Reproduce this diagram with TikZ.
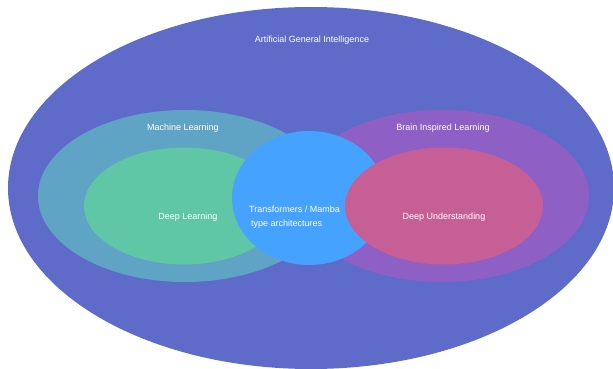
\documentclass[tikz,border=0pt]{standalone}
\usepackage{fontspec}
\setmainfont{Liberation Sans}
\usepackage{xcolor}
\usetikzlibrary{positioning}
\usetikzlibrary{shapes.geometric}
\definecolor{agicol}{RGB}{95,107,200}
\definecolor{mlcol}{RGB}{95,163,197}
\definecolor{dlcol}{RGB}{95,199,165}
\definecolor{tfcol}{RGB}{69,163,255}
\definecolor{bilcol}{RGB}{142,95,197}
\definecolor{ducol}{RGB}{197,95,150}

\tikzset{
  blob/.style={ellipse, inner sep=0pt},
  lbl/.style={text=white, font=\fontsize{9}{14}\selectfont, inner sep=1pt}
}

\begin{document}
\begin{tikzpicture}[x=1pt, y=-1pt]
\useasboundingbox (0,0) rectangle (613,369);
\clip (0,0) rectangle (613,369);

\node (agi) [blob, fill=agicol, minimum width=606pt, minimum height=362pt] at (311,188) {};

\node (ml) [blob, fill=mlcol, minimum width=294pt, minimum height=172pt] at (185,196) {};
\node (bil) [blob, fill=bilcol, minimum width=294pt, minimum height=172pt] at (442,196) {};

\node (dl) [blob, fill=dlcol, minimum width=200pt, minimum height=117pt] at (184,206) {};
\node (tf) [blob, fill=tfcol, minimum width=154pt, minimum height=134pt] at (309,198) {};
\node (du) [blob, fill=ducol, minimum width=198pt, minimum height=117pt] at (444,206) {};

\node (agilbl) [lbl] at (312,40) {Artificial General Intelligence};
\node (mllbl) [lbl] at (183,128) {Machine Learning};
\node (billbl) [lbl] at (443,128) {Brain Inspired Learning};
\node (dllbl) [lbl] at (188,217) {Deep Learning};
\node (tflbl) [lbl, anchor=west, align=left] at (248,217) {Transformers / Mamba\\\hspace{2pt}type architectures};
\node (dulbl) [lbl] at (444,217) {Deep Understanding};
\end{tikzpicture}
\end{document}
